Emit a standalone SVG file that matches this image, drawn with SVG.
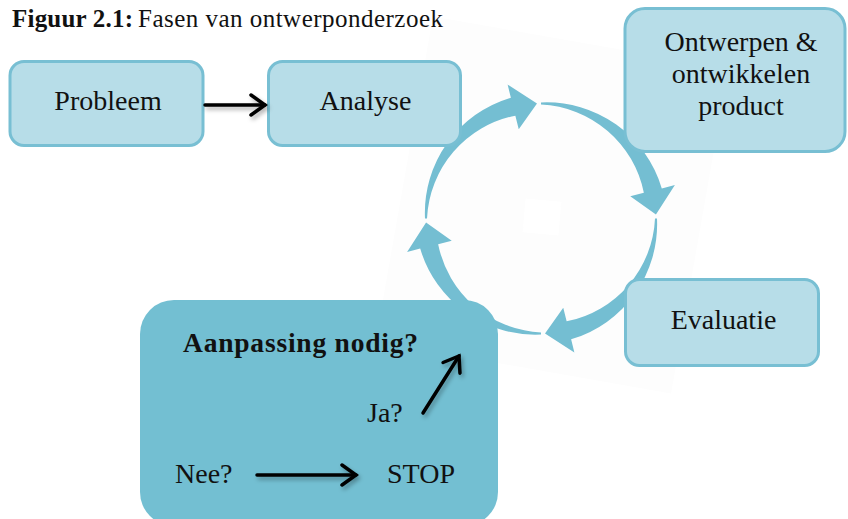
<svg xmlns="http://www.w3.org/2000/svg" xmlns:xlink="http://www.w3.org/1999/xlink" width="848" height="519" viewBox="0 0 848 519">
  <style>
    .box { fill: #b7dde8; stroke: #78bfd3; stroke-width: 3; }
    .box-dark { fill: #73bfd2; stroke: none; }
    .lbl { font-family: "Liberation Serif", "Times New Roman", serif; font-size: 28px; fill: #111; }
    .title { font-size: 25px; }
    .heading { font-size: 27.5px; font-weight: bold; }
    .bold { font-weight: bold; }
    .mid { text-anchor: middle; }
    .cyc { fill: #74bed2; }
    .conn { fill: none; stroke: #000; stroke-width: 3.5; stroke-linecap: round; }
  </style>
  <defs>
    <filter id="soft-shadow" x="-20%" y="-50%" width="140%" height="200%">
      <feDropShadow dx="2" dy="3" stdDeviation="2" flood-color="#000" flood-opacity="0.3"/>
    </filter>
    <marker id="chevron" viewBox="0 0 20 24" refX="17" refY="12" markerWidth="20" markerHeight="24" markerUnits="userSpaceOnUse" orient="auto">
      <path d="M3,2 L17,12 L3,22" fill="none" stroke="#000" stroke-width="3.5" stroke-linecap="round" stroke-linejoin="miter"/>
    </marker>
    <!-- one tapered quarter arrow of the cycle, centred on the origin, running top -> right -->
    <path id="quarter-arrow" d="M0,-116 A120 120 0 0 1 120.80,-30.12 L133.9,-33.38 L114.93,-4.01 L89.27,-22.26 L102.85,-25.64 A110 110 0 0 0 0,-114 Z"/>
  </defs>

  <rect width="848" height="519" fill="#fff"/>

  <!-- faint backdrop behind the cycle -->
  <g id="cycle-backdrop">
    <rect x="402" y="40" width="300" height="330" fill="#fdfdfd" transform="rotate(10 552 205)"/>
    <rect x="524" y="200" width="36" height="34" fill="#fff" transform="rotate(5 542 217)"/>
  </g>

  <!-- title -->
  <g id="title">
    <text class="lbl title bold" x="12" y="27" textLength="121">Figuur 2.1:</text>
    <text class="lbl title" x="138" y="27" textLength="305">Fasen van ontwerponderzoek</text>
  </g>

  <!-- cycle of four curved arrows -->
  <g id="cycle" class="cyc" transform="translate(541 218.5)">
    <use xlink:href="#quarter-arrow" href="#quarter-arrow"/>
    <use xlink:href="#quarter-arrow" href="#quarter-arrow" transform="rotate(90)"/>
    <use xlink:href="#quarter-arrow" href="#quarter-arrow" transform="rotate(180)"/>
    <use xlink:href="#quarter-arrow" href="#quarter-arrow" transform="rotate(270)"/>
  </g>

  <g id="probleem">
    <rect class="box" x="10" y="61.5" width="193" height="84" rx="14"/>
    <text class="lbl mid" x="108" y="110">Probleem</text>
  </g>

  <g id="analyse">
    <rect class="box" x="268.5" y="61.5" width="192" height="84" rx="14"/>
    <text class="lbl mid" x="365.5" y="110">Analyse</text>
  </g>

  <g id="ontwerpen">
    <rect class="box" x="625" y="8.5" width="220" height="143" rx="20"/>
    <text class="lbl mid" x="741" y="51">Ontwerpen &amp;</text>
    <text class="lbl mid" x="741" y="83">ontwikkelen</text>
    <text class="lbl mid" x="741" y="115">product</text>
  </g>

  <g id="evaluatie">
    <rect class="box" x="625.5" y="279.5" width="193" height="86" rx="14"/>
    <text class="lbl mid" x="723.5" y="329">Evaluatie</text>
  </g>

  <g id="aanpassing">
    <rect class="box-dark" x="140" y="300" width="358" height="226" rx="34"/>
    <text class="lbl heading" x="183" y="352" textLength="235">Aanpassing nodig?</text>
    <text class="lbl" x="367" y="422">Ja?</text>
    <text class="lbl" x="175" y="483">Nee?</text>
    <text class="lbl" x="387" y="483">STOP</text>
  </g>

  <!-- black connectors -->
  <g id="connectors" filter="url(#soft-shadow)">
    <path class="conn" d="M205,105 L265,105" marker-end="url(#chevron)"/>
    <path class="conn" d="M423,413 L459,356" marker-end="url(#chevron)"/>
    <path class="conn" d="M257,475 L356,475" marker-end="url(#chevron)"/>
  </g>
</svg>
